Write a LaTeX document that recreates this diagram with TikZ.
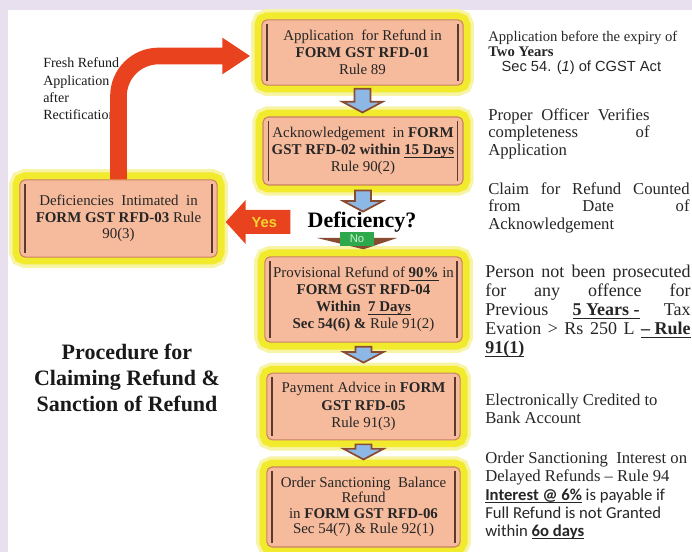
\documentclass[tikz,border=0pt]{standalone}
\usepackage{fontspec}
\setmainfont{Liberation Serif}
\newfontfamily\arialfont{Liberation Sans}
\newfontfamily\calibrifont{Carlito}
\usetikzlibrary{arrows.meta,calc}

\definecolor{bglavender}{HTML}{E8E0EE}
\definecolor{glowyellow}{HTML}{F2EA2C}
\definecolor{glowpale}{HTML}{F8F4A6}
\definecolor{boxsalmon}{HTML}{F6BA9C}
\definecolor{boxedge}{HTML}{C98262}
\definecolor{barbrown}{HTML}{5B3A2E}
\definecolor{arrowblue}{HTML}{8DB8E6}
\definecolor{arrowbrown}{HTML}{8A4B33}
\definecolor{flowred}{HTML}{E8421E}
\definecolor{yesyellow}{HTML}{F2D530}
\definecolor{nogreen}{HTML}{2DA84A}
\definecolor{nolight}{HTML}{CFF2D2}

\tikzset{
  stepbox/.style={
    rounded corners=4pt, fill=boxsalmon, draw=boxedge, line width=0.8pt,
    preaction={draw=glowpale, line width=16pt},
    preaction={draw=glowyellow, line width=11pt},
    align=center, inner sep=0pt, text=black!85,
    font=\fontsize{11.2}{12.9}\selectfont,
    path picture={
      \draw[barbrown, line width=1.1pt]
        ([xshift=4pt,yshift=-3pt]path picture bounding box.north west) --
        ([xshift=4pt,yshift=3pt]path picture bounding box.south west);
      \draw[barbrown, line width=1.1pt]
        ([xshift=-4pt,yshift=-3pt]path picture bounding box.north east) --
        ([xshift=-4pt,yshift=3pt]path picture bounding box.south east);
    }
  },
  flowarrow/.style={fill=arrowblue, draw=arrowbrown, line width=1.3pt, line join=miter},
  redflow/.style={draw=flowred, line width=12.5pt, rounded corners=30pt,
    -{Triangle[width=26pt,length=21pt]}},
  notetext/.style={anchor=west, align=left, inner sep=0pt, text=black!85},
}

\newcommand{\fullline}[2]{\makebox[#1][s]{#2}}
\newcommand{\ulined}[1]{\setbox0\hbox{#1}\rlap{\rule[-2.2pt]{\wd0}{0.6pt}}\box0\relax}
\newcommand{\flowarrow}[2]{%
  \filldraw[flowarrow] let \p1=(#1), \p2=(#2) in
    (\x1-6pt,\y1) -- (\x1+6pt,\y1) -- (\x1+6pt,\y2+8pt) -- (\x1+15pt,\y2+8pt)
    -- (\x1,\y2) -- (\x1-15pt,\y2+8pt) -- (\x1-6pt,\y2+8pt) -- cycle;}

\begin{document}
\begin{tikzpicture}[x=0.75pt,y=-0.75pt,>=Stealth]

    \useasboundingbox (0,0) rectangle (692,552);
    \fill[bglavender] (0,0) rectangle (692,552);
    \fill[white] (8,10) rectangle (692,552);

    \node[stepbox, minimum width=151pt, minimum height=49pt]
        (box1) at (362.5,52.5)
        {Application\ \ for Refund in\\\textbf{FORM GST RFD-01}\\Rule 89};

    \node[stepbox, minimum width=150pt, minimum height=51pt]
        (box2) at (363,151)
        {Acknowledgement\ \ in \textbf{FORM}\\\textbf{GST RFD-02 within \ulined{15 Days}}\\Rule 90(2)};

    \node[stepbox, minimum width=148pt, minimum height=64pt]
        (box3) at (363.5,299.5)
        {Provisional Refund of \textbf{\ulined{90\%}} in\\\textbf{FORM GST RFD-04}\\\textbf{Within \ \ulined{7 Days}}\\\textbf{Sec 54(6) \&} Rule 91(2)};

    \node[stepbox, minimum width=145pt, minimum height=50pt]
        (box4) at (363.5,406.5)
        {Payment Advice in \textbf{FORM}\\\textbf{GST RFD-05}\\Rule 91(3)};

    \node[stepbox, minimum width=145pt, minimum height=60pt,
          font=\fontsize{11.2}{11.7}\selectfont]
        (box5) at (363.5,507)
        {Order Sanctioning\ \ Balance\\Refund\\in \textbf{FORM GST RFD-06}\\Sec 54(7) \& Rule 92(1)};

    \node[stepbox, minimum width=148pt, minimum height=58pt,
          font=\fontsize{11.2}{12.2}\selectfont]
        (defbox) at (118.5,218.5)
        {Deficiencies\ \ Intimated\ \ in\\\textbf{FORM GST RFD-03} Rule\\90(3)};

    \node[font=\bfseries\fontsize{16.5}{18}\selectfont, inner sep=0pt]
        (dec) at (362,222) {Deficiency?};

    \flowarrow{$(box1.south)+(0,3)$}{$(box2.north)+(0,-4)$}
    \flowarrow{$(box2.south)+(0,5)$}{dec.north}
    \flowarrow{$(box3.south)+(0,4)$}{$(box4.north)+(0,-10)$}
    \flowarrow{$(box4.south)+(0,4)$}{$(box5.north)+(0,-7)$}

    \coordinate (nopos) at (357,239);
    \fill[arrowbrown]
        ($(nopos)+(-40,-1)$) -- ($(nopos)+(40,-1)$)
        -- ($(box3.north)+(0,-7)$) -- cycle;
    \node[fill=nogreen, text=nolight, font=\arialfont\fontsize{8.5}{9}\selectfont,
          minimum width=25pt, minimum height=10pt, inner sep=0pt]
        (no) at (nopos) {No};

    \fill[flowred] let \p1=($(dec.west)+(-17,0)$), \p2=($(defbox.east)+(8,0)$) in
        (\x1,\y1+9pt) -- (\x2+15pt,\y1+9pt) -- (\x2+15pt,\y1+16.5pt)
        -- (\x2,\y1) -- (\x2+15pt,\y1-16.5pt) -- (\x2+15pt,\y1-9pt)
        -- (\x1,\y1-9pt) -- cycle;
    \node[font=\arialfont\bfseries\fontsize{11}{12}\selectfont, text=yesyellow]
        (yes) at ($(dec.west)+(-43,1)$) {Yes};

    \node[notetext, font=\fontsize{10.5}{13}\selectfont, text=black!90]
        (fresh) at (43,89)
        {Fresh Refund\\Application\\after\\Rectification};

    \draw[redflow] (defbox.north) |- ($(box1.west)+(-11,3.5)$);

    \node[font=\bfseries\fontsize{16.5}{19.5}\selectfont, align=center, text=black!90]
        (title) at (127,378)
        {Procedure for\\Claiming Refund \&\\Sanction of Refund};

    \node[notetext, font=\fontsize{11}{11.2}\selectfont]
        (expiry) at (488,52.5)
        {Application before the expiry of\\\textbf{Two Years}\\
         \hspace*{10pt}{\arialfont Sec 54. (\textit{1}) of CGST Act}};

    \node[notetext, font=\fontsize{12.5}{13.1}\selectfont]
        (verify) at (488,133.5)
        {\fullline{121pt}{Proper Officer Verifies}\\
         \fullline{121pt}{completeness of}\\Application};

    \node[notetext, font=\fontsize{12.5}{13.1}\selectfont]
        (counted) at (488,207.5)
        {\fullline{151pt}{Claim for Refund Counted}\\
         \fullline{151pt}{from Date of}\\Acknowledgement};

    \node[notetext, font=\fontsize{13.5}{14.3}\selectfont]
        (prosecuted) at (485,311.5)
        {\fullline{154pt}{Person not been prosecuted}\\
         \fullline{154pt}{for any offence for}\\
         \fullline{154pt}{Previous \ulined{\textbf{5 Years -}} Tax}\\
         \fullline{154pt}{Evation \textgreater{} Rs 250 L \ulined{\textbf{-- Rule}}}\\
         \ulined{\textbf{91(1)}}};

    \node[notetext, font=\fontsize{12.5}{13.1}\selectfont]
        (credited) at (485,409)
        {Electronically Credited to\\Bank Account};

    \node[notetext, font=\fontsize{12.5}{13.5}\selectfont]
        (interest) at (485,469)
        {Order Sanctioning\ \ Interest on\\Delayed Refunds -- Rule 94};

    \node[notetext, font=\calibrifont\fontsize{12.5}{13.5}\selectfont]
        (payable) at (485,514)
        {\ulined{\textbf{Interest @ 6\%}} is payable if\\
         Full Refund is not Granted\\within \ulined{\textbf{6o days}}};

\end{tikzpicture}
\end{document}
